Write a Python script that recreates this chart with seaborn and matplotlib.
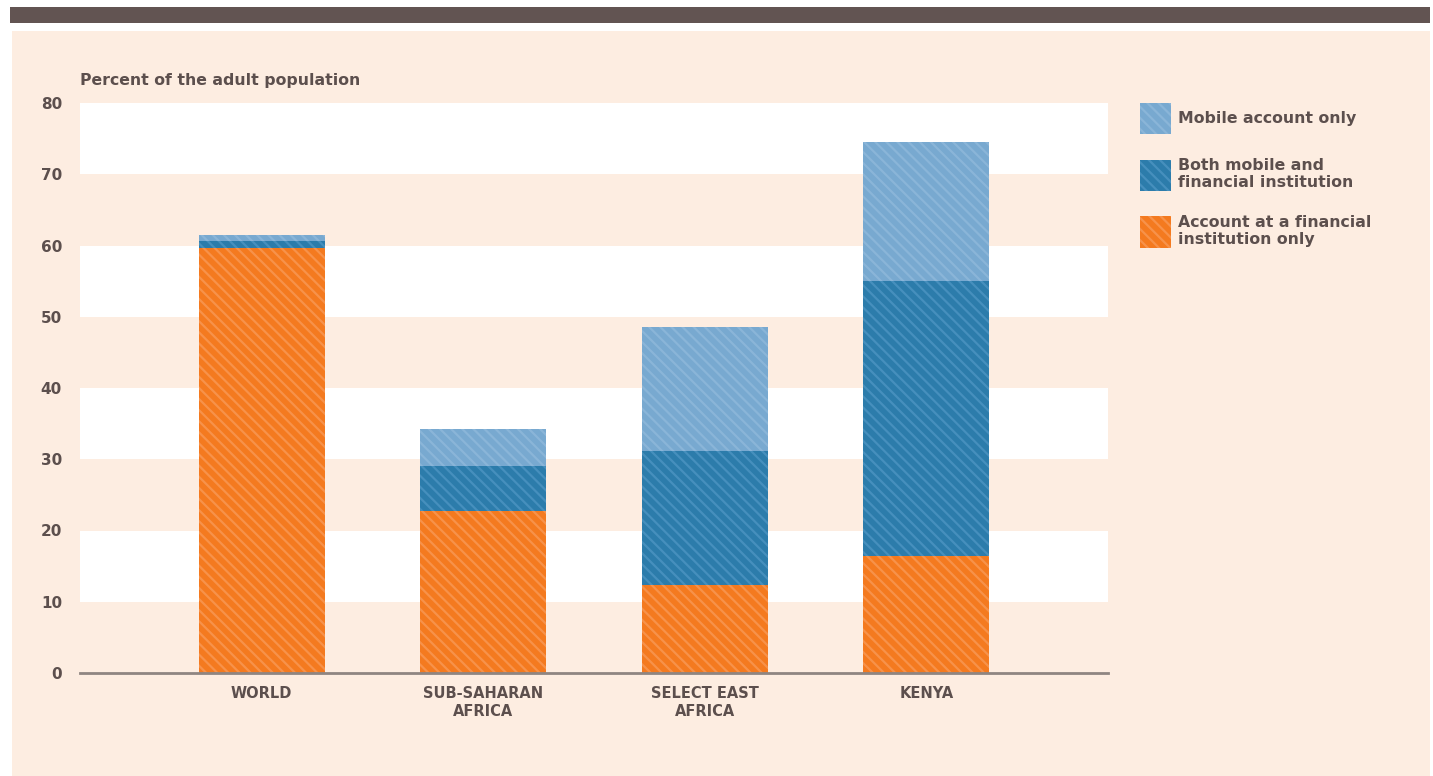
import matplotlib
matplotlib.use("Agg")
import matplotlib.pyplot as plt
from matplotlib.patches import Patch, Rectangle
import numpy as np
import seaborn as sns

# Account ownership by type, percent of adults
regions = ["WORLD", "SUB-SAHARAN\nAFRICA", "SELECT EAST\nAFRICA", "KENYA"]
financial_only = [59.7, 22.7, 12.4, 16.4]
both_accounts = [1.0, 6.3, 18.8, 38.6]
mobile_only = [0.8, 5.3, 17.4, 19.5]
series_labels = [
    "Mobile account only",
    "Both mobile and\nfinancial institution",
    "Account at a financial\ninstitution only",
]
y_ticks = [0, 10, 20, 30, 40, 50, 60, 70, 80]

W, H = 1433, 776
TEXT = "#5c4f4d"
HEADER = "#625452"
PANEL = "#fdede1"
LIGHT_BLUE, LIGHT_BLUE_H = "#78a9d0", "#8ab5d8"
DARK_BLUE, DARK_BLUE_H = "#2c7cab", "#468fbd"
ORANGE, ORANGE_H = "#f47a1f", "#f7924a"
HATCH = "\\\\\\"

sns.set_theme(style="white")
plt.rcParams["font.family"] = ["DejaVu Sans"]
plt.rcParams["hatch.linewidth"] = 1.6

fig = plt.figure(figsize=(W / 100, H / 100), dpi=100, facecolor="white")
fig.patches.append(Rectangle((10 / W, 1 - 23 / H), 1420 / W, 16 / H,
                             transform=fig.transFigure, color=HEADER, lw=0, zorder=-2))
fig.patches.append(Rectangle((12 / W, 0), 1418 / W, 1 - 31 / H,
                             transform=fig.transFigure, color=PANEL, lw=0, zorder=-2))

ax = fig.add_axes([80 / W, 1 - 673 / H, 1028 / W, 570 / H])
ax.set_facecolor("none")

# alternating white bands behind the bars
for lo in (10, 30, 50, 70):
    ax.axhspan(lo, lo + 10, color="white", lw=0, zorder=0)

fin = np.array(financial_only)
both = np.array(both_accounts)
mob = np.array(mobile_only)
layers = [
    (fin + both + mob, LIGHT_BLUE, LIGHT_BLUE_H),
    (fin + both, DARK_BLUE, DARK_BLUE_H),
    (fin, ORANGE, ORANGE_H),
]


def style_hatch(patch, hatch_color):
    patch.set_hatch(HATCH)
    patch.set_edgecolor(hatch_color)
    if hasattr(patch, "set_hatchcolor"):
        patch.set_hatchcolor(hatch_color)
    patch.set_linewidth(0)


# cumulative totals drawn tallest first so each segment covers the previous
for heights, face, hatch_color in layers:
    n0 = len(ax.patches)
    sns.barplot(x=regions, y=heights, color=face, saturation=1, width=0.57,
                ax=ax, zorder=3)
    for p in ax.patches[n0:]:
        style_hatch(p, hatch_color)

ax.set_ylim(0, 80)
ax.set_xlim(-0.82, 3.82)
ax.set_yticks(y_ticks)
ax.set_xlabel("")
ax.set_ylabel("")
for side in ("top", "right", "left"):
    ax.spines[side].set_visible(False)
ax.spines["bottom"].set_color("#8f8581")
ax.spines["bottom"].set_linewidth(2)
ax.spines["bottom"].set_zorder(4)

ax.tick_params(axis="y", length=0, pad=13, labelsize=11, labelcolor=TEXT)
ax.tick_params(axis="x", length=0, pad=9, labelsize=10.5, labelcolor=TEXT)
for lbl in ax.get_yticklabels() + ax.get_xticklabels():
    lbl.set_fontweight("bold")
for lbl in ax.get_xticklabels():
    lbl.set_linespacing(1.25)

ax.text(0, 1.04, "Percent of the adult population", transform=ax.transAxes,
        ha="left", va="center", fontsize=11.3, fontweight="bold", color=TEXT)

handles = []
for label, face, hatch_color in zip(series_labels, [LIGHT_BLUE, DARK_BLUE, ORANGE],
                                    [LIGHT_BLUE_H, DARK_BLUE_H, ORANGE_H]):
    h = Patch(facecolor=face, label=label)
    style_hatch(h, hatch_color)
    handles.append(h)

ax.legend(handles=handles, loc="upper left",
          bbox_to_anchor=(1140 / W, 1 - 103 / H), bbox_transform=fig.transFigure,
          frameon=False, handlelength=1.95, handleheight=2.7, handletextpad=0.5,
          labelspacing=1.5, borderaxespad=0, borderpad=0,
          prop={"weight": "bold", "size": 11.3}, labelcolor=TEXT)

fig.savefig("out.png", dpi=100, facecolor=fig.get_facecolor())
